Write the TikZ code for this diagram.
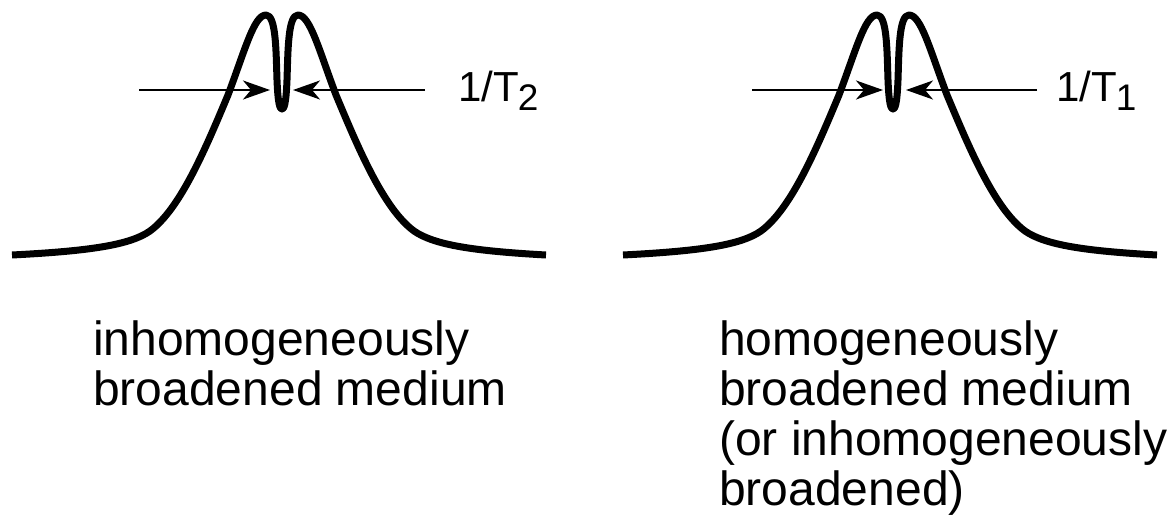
\documentclass[tikz,border=0pt]{standalone}
\usepackage{fontspec}
\setmainfont{Liberation Sans}
\usetikzlibrary{arrows.meta}
\tikzset{
  curve/.style={line width=7pt, line join=round, line cap=butt},
  pointer/.style={line width=2.2pt, -{Stealth[length=27pt, width=19pt, inset=8pt]}},
  caption/.style={anchor=base west, inner sep=0pt, font=\fontsize{48}{50}\selectfont},
  rate/.style={anchor=base west, inner sep=0pt, font=\fontsize{42}{44}\selectfont}
}
\newcommand{\lineshape}{%
  (12,255) .. controls (90,251) and (130,245) .. (150,231)
  .. controls (180,209) and (205,150) .. (228,95)
  .. controls (245,50) and (254,15) .. (266,15)
  .. controls (276,15) and (276,50) .. (277,80)
  .. controls (278,105) and (280,109) .. (282,109)
  .. controls (284,109) and (286,105) .. (287,80)
  .. controls (288,50) and (288,15) .. (298,15)
  .. controls (310,15) and (319,50) .. (336,95)
  .. controls (359,150) and (384,209) .. (414,231)
  .. controls (434,245) and (474,251) .. (546,255)}
\begin{document}
\begin{tikzpicture}[x=1pt, y=-1pt]
\useasboundingbox (0,0) rectangle (1173,527);
% left profile
\draw[curve] \lineshape;
% right profile
\begin{scope}[xshift=611pt]
\draw[curve] \lineshape;
\end{scope}

% arrows, left
\coordinate (la1) at (139,90);
\coordinate (lt1) at (270,90);
\coordinate (la2) at (425,90);
\coordinate (lt2) at (293,90);
\draw[pointer] (la1) -- (lt1);
\draw[pointer] (la2) -- (lt2);
% arrows, right
\coordinate (ra1) at (752,90);
\coordinate (rt1) at (883,90);
\coordinate (ra2) at (1037,90);
\coordinate (rt2) at (906,90);
\draw[pointer] (ra1) -- (rt1);
\draw[pointer] (ra2) -- (rt2);

% rate labels
\node[rate] (t2) at (458,102) {1/T\kern-1pt\raisebox{-9pt}{\fontsize{37}{37}\selectfont 2}};
\node[rate] (t1) at (1056,102) {1/T\kern-1pt\raisebox{-9pt}{\fontsize{37}{37}\selectfont 1}};

% captions
\node[caption] (l1) at (93,355) {inhomogeneously};
\node[caption] (l2) at (93,405) {broadened medium};
\node[caption] (r1) at (719,355) {homogeneously};
\node[caption] (r2) at (719,405) {broadened medium};
\node[caption] (r3) at (719,455) {(or inhomogeneously};
\node[caption] (r4) at (719,505) {broadened)};
\end{tikzpicture}
\end{document}
